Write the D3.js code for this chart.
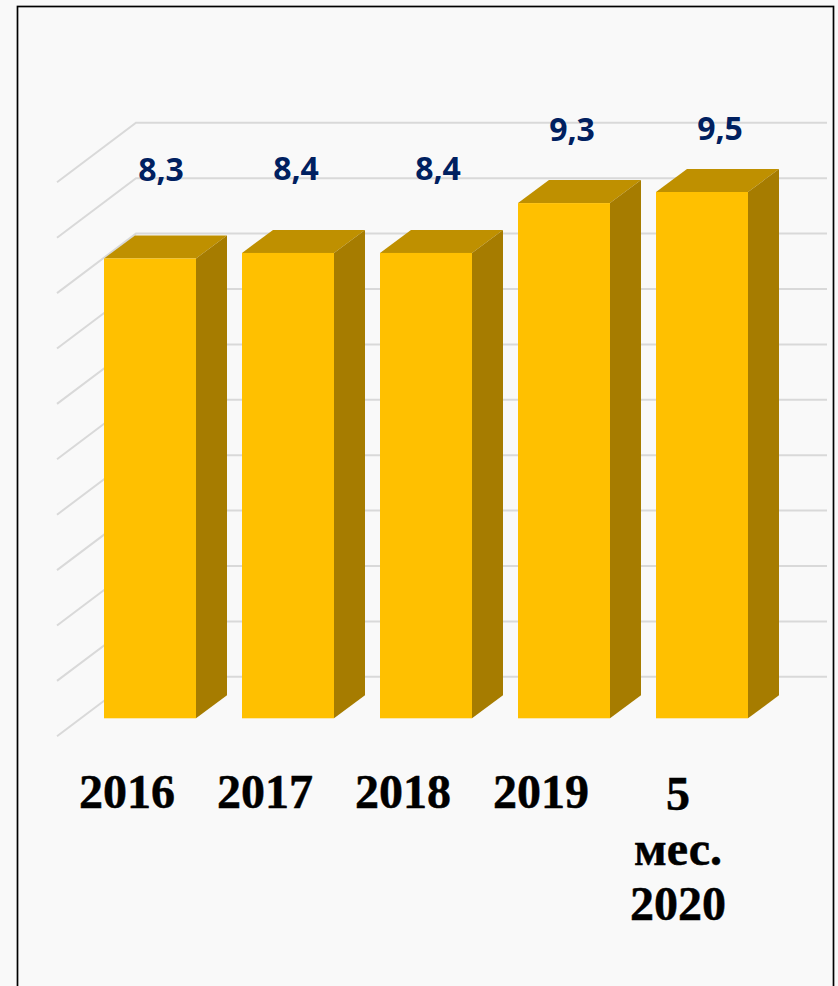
<!DOCTYPE html>
<html>
<head>
<meta charset="utf-8">
<script src="https://cdn.jsdelivr.net/npm/d3@7"></script>
<style>
  html, body { margin: 0; padding: 0; background: #f9f9f9; }
  svg { display: block; }
</style>
</head>
<body>
<svg id="chart"></svg>
<script>
// Chart data
const categories = ["2016", "2017", "2018", "2019", "5 мес. 2020"];
const values = [8.3, 8.4, 8.4, 9.3, 9.5];
const valueLabels = ["8,3", "8,4", "8,4", "9,3", "9,5"];
const gridTicks = [0, 1, 2, 3, 4, 5, 6, 7, 8, 9, 10];
const categoryLines = [["2016"], ["2017"], ["2018"], ["2019"], ["5", "мес.", "2020"]];

const width = 838;
const height = 986;

// Hand placed labels in the original, offsets from the bar
const labelDx = [11, 8, 12, 8, 18];
const labelDy = [77.5, 72.5, 72.5, 62.5, 52.5];

// 3D projection of the bar depth and the floor
const depthX = 31;
const depthY = 23;

const svg = d3.select("#chart").attr("width", width).attr("height", height);

const x = d3.scaleBand()
  .domain(categories)
  .range([81, 771])
  .paddingInner(1 / 3)
  .paddingOuter(1 / 6);

const y = d3.scaleLinear()
  .domain([0, 10])
  .range([718.3, 164.3]);

// Frame
svg.append("rect")
  .attr("x", 17.5)
  .attr("y", 6.5)
  .attr("width", 816)
  .attr("height", 1000)
  .attr("fill", "#f9f9f9")
  .attr("stroke", "#000")
  .attr("stroke-width", 1.7);

// Gridlines: diagonal on the side wall, then along the back wall
const grid = svg.append("g")
  .attr("fill", "none")
  .attr("stroke", "#d9d9d9")
  .attr("stroke-width", 2);

grid.selectAll("path")
  .data(gridTicks)
  .join("path")
  .attr("d", d => `M57,${y(d) + 18}L136,${y(d) - 41.5}H827`);

// Bars
const bars = svg.selectAll(".bar")
  .data(values)
  .join("g")
  .attr("class", "bar");

const left = (d, i) => x(categories[i]);
const right = (d, i) => x(categories[i]) + x.bandwidth();

bars.append("path")
  .attr("fill", "#bf9000")
  .attr("d", (d, i) => `M${left(d, i)},${y(d)}l${depthX},${-depthY}H${right(d, i) + depthX}l${-depthX},${depthY}Z`);

bars.append("path")
  .attr("fill", "#a67c00")
  .attr("d", (d, i) => `M${right(d, i)},${y(d)}l${depthX},${-depthY}V${y(0) - depthY}l${-depthX},${depthY}Z`);

bars.append("rect")
  .attr("fill", "#ffc000")
  .attr("x", left)
  .attr("y", d => y(d))
  .attr("width", x.bandwidth())
  .attr("height", d => y(0) - y(d));

// Value labels
svg.selectAll(".value")
  .data(values)
  .join("text")
  .attr("class", "value")
  .attr("x", (d, i) => x(categories[i]) + x.bandwidth() / 2 + labelDx[i])
  .attr("y", (d, i) => y(d) - labelDy[i])
  .attr("text-anchor", "middle")
  .attr("font-family", "'Open Sans', sans-serif")
  .attr("font-weight", 700)
  .attr("font-size", 32)
  .attr("fill", "#002060")
  .text((d, i) => valueLabels[i]);

// Category labels
const catLabel = svg.selectAll(".cat")
  .data(categoryLines)
  .join("text")
  .attr("class", "cat")
  .attr("text-anchor", "middle")
  .attr("font-family", "'Liberation Serif', serif")
  .attr("font-weight", 700)
  .attr("font-size", 48)
  .attr("fill", "#000")
  .attr("stroke", "#000")
  .attr("stroke-width", 0.5);

catLabel.selectAll("tspan")
  .data((d, i) => d.map((line, j) => ({ line, j, i, multi: d.length > 1 })))
  .join("tspan")
  .attr("x", d => x(categories[d.i]) + x.bandwidth() / 2 + (d.multi ? -24 : -23))
  .attr("y", d => (d.multi ? 810 + d.j * 55 : 808))
  .text(d => d.line);
</script>
</body>
</html>
